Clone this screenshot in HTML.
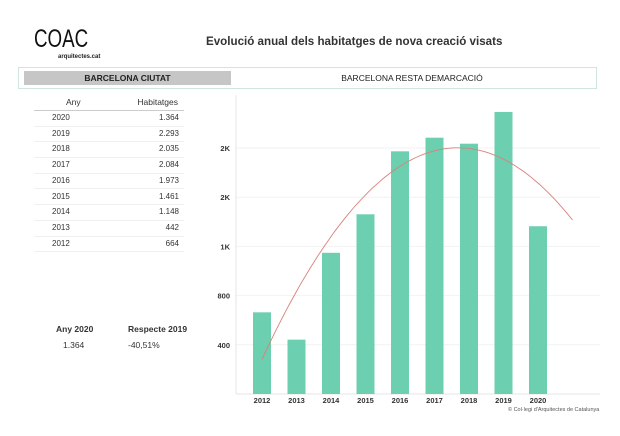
<!DOCTYPE html>
<html><head><meta charset="utf-8"><style>
body{margin:0;width:620px;height:436px;background:#fff;font-family:"Liberation Sans",sans-serif;color:#333;position:relative;overflow:hidden}
.a{position:absolute}
</style></head><body>
<div class="a" style="left:34px;top:25px;font-size:25px;color:#111;font-weight:400;transform:scaleX(0.75);transform-origin:left">COAC</div>
<div class="a" style="left:58px;top:54px;font-size:6px;font-weight:bold;color:#222">arquitectes.cat</div>
<div class="a" style="left:206px;top:35px;font-size:11.6px;font-weight:bold;color:#333">Evolució anual dels habitatges de nova creació visats</div>
<div class="a" style="left:18px;top:67px;width:577px;height:20px;border:1px solid #cfe6e0"></div>
<div class="a" style="left:24px;top:71px;width:207px;height:14px;background:#c6c6c6;font-size:8.5px;font-weight:bold;text-align:center;line-height:14px;color:#222">BARCELONA CIUTAT</div>
<div class="a" style="left:231px;top:71px;width:362px;height:14px;font-size:8.5px;text-align:center;line-height:14px;color:#222">BARCELONA RESTA DEMARCACIÓ</div>
<div id="tbl"></div>
<div class="a" style="left:56px;top:324px;font-size:8.5px;font-weight:bold">Any 2020</div>
<div class="a" style="left:128px;top:324px;font-size:8.5px;font-weight:bold">Respecte 2019</div>
<div class="a" style="left:63px;top:340px;font-size:8.5px">1.364</div>
<div class="a" style="left:128px;top:340px;font-size:8.5px">-40,51%</div>
<svg class="a" style="left:0;top:0" width="620" height="436" id="svg"></svg>
<div class="a" style="left:508px;top:407px;font-size:5.5px;color:#555">© Col·legi d'Arquitectes de Catalunya</div>
<script>
const years=["2012","2013","2014","2015","2016","2017","2018","2019","2020"];
const values=[664,442,1148,1461,1973,2084,2035,2293,1364];
const tickVals=[400,800,1200,1600,2000];
const tickLabels=["400","800","1K","2K","2K"];
const fmt=v=>v>=1000?Math.floor(v/1000)+"."+String(v%1000).padStart(3,"0"):String(v);
const tbl=document.getElementById('tbl');
let h='<div class="a" style="left:34px;top:97px;width:150px;height:13px;border-bottom:1px solid #ccc;font-size:8.5px"><span class="a" style="left:32px">Any</span><span class="a" style="right:6px">Habitatges</span></div>';
tbl.innerHTML=h;
for(let i=years.length-1,r=0;i>=0;i--,r++){
 const d=document.createElement('div');
 d.className='a';
 
 
 d.style.cssText=`left:34px;top:${111+r*15.7}px;width:150px;height:14.7px;border-bottom:1px solid #f0f0f0;font-size:8px;line-height:14px`;
 d.innerHTML=`<span class="a" style="left:18px">${years[i]}</span><span class="a" style="right:5px">${fmt(values[i])}</span>`;
 tbl.appendChild(d);
}
const svg=document.getElementById('svg'),NS="http://www.w3.org/2000/svg";
const y0=394,k=49.2/400,x0=262,dx=34.5,bw=18;
const Y=v=>y0-v*k, X=i=>x0+i*dx;
function el(t,a,name){const e=document.createElementNS(NS,t);for(const q in a)e.setAttribute(q,a[q]);
 
 
 svg.appendChild(e);return e;}
tickVals.forEach((v,i)=>{el('line',{x1:236,x2:600,y1:Y(v),y2:Y(v),stroke:'#f2f2f2'},'gridline');
 const t=el('text',{x:230,y:Y(v)+3,'font-size':7.5,'font-weight':'bold','text-anchor':'end',fill:'#333'},'y-tick-label');t.textContent=tickLabels[i];});
el('line',{x1:236,x2:236,y1:95,y2:394,stroke:'#e6e6e6'},'y-axis');
el('line',{x1:236,x2:600,y1:394,y2:394,stroke:'#e6e6e6'},'x-axis');
values.forEach((v,i)=>{el('rect',{x:X(i)-bw/2,y:Y(v),width:bw,height:y0-Y(v),fill:'#6ccfb0'},'bar-'+years[i]);
 const t=el('text',{x:X(i),y:403,'font-size':7.5,'font-weight':'bold','text-anchor':'middle',fill:'#333'},'x-tick-label');t.textContent=years[i];});
let S=[0,0,0,0,0],T=[0,0,0];
values.forEach((v,i)=>{for(let p=0;p<5;p++)S[p]+=i**p;for(let p=0;p<3;p++)T[p]+=v*i**p;});
const M=[[S[0],S[1],S[2],T[0]],[S[1],S[2],S[3],T[1]],[S[2],S[3],S[4],T[2]]];
for(let c=0;c<3;c++){for(let r=c+1;r<3;r++){const f=M[r][c]/M[c][c];for(let j=c;j<4;j++)M[r][j]-=f*M[c][j];}}
const co=[0,0,0];for(let r=2;r>=0;r--){let s=M[r][3];for(let j=r+1;j<3;j++)s-=M[r][j]*co[j];co[r]=s/M[r][r];}
let d='';for(let s=0;s<=90;s++){const t=s/10;const v=co[0]+co[1]*t+co[2]*t*t;d+=(s?'L':'M')+X(t).toFixed(1)+' '+Y(v).toFixed(1);}
el('path',{d:d,fill:'none',stroke:'#d9827a','stroke-width':0.9},'trend-line');
</script>
</body></html>
